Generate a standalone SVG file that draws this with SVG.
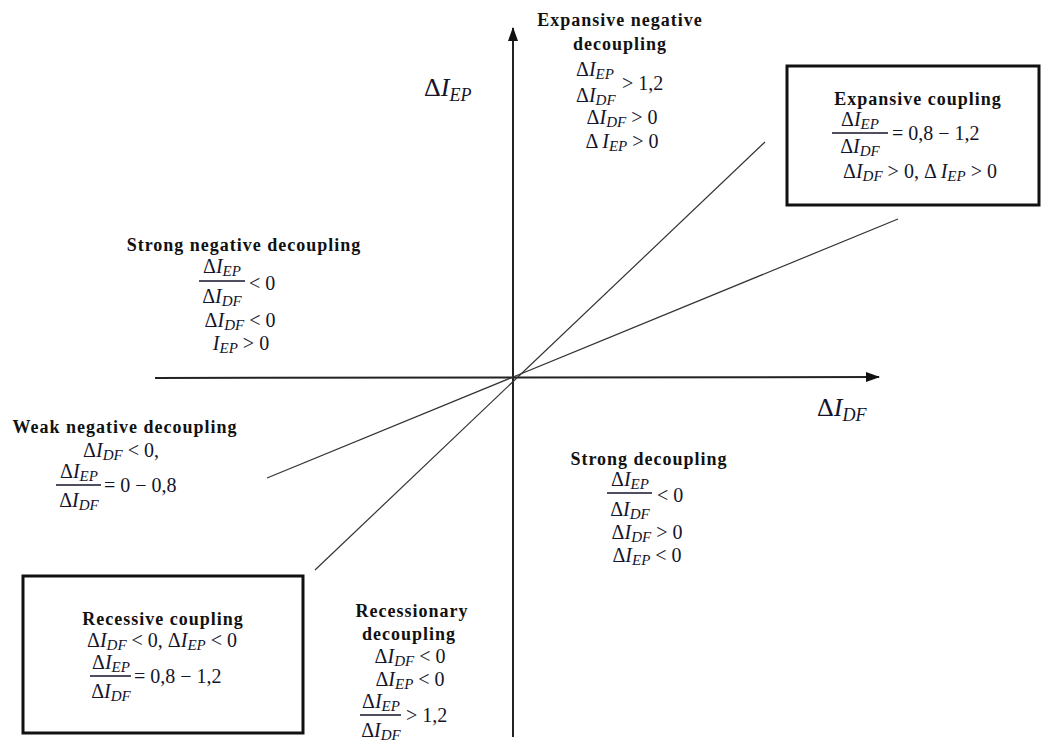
<svg xmlns="http://www.w3.org/2000/svg" width="1046" height="744" viewBox="0 0 1046 744">
<style>
.t{font-family:"Liberation Serif",serif;font-weight:bold;font-size:18px;letter-spacing:1px;fill:#111;text-anchor:middle}
.m{font-family:"Liberation Serif",serif;font-size:20px;fill:#14142a}
.c{text-anchor:middle}
.i{font-style:italic}
.s{font-size:15px;font-style:italic}
.ax{font-family:"Liberation Serif",serif;font-size:26px;fill:#14142a}
.bar{stroke:#14142a;stroke-width:1.4}
.box{fill:none;stroke:#111;stroke-width:3}
.axis{stroke:#222;stroke-width:2;fill:none}
.diag{stroke:#333;stroke-width:1.2}
</style>
<defs>
<marker id="arr" viewBox="0 0 14 10" refX="13" refY="5" markerWidth="14" markerHeight="10" markerUnits="userSpaceOnUse" orient="auto">
<path d="M0,0 L14,5 L0,10 Z" fill="#111"/>
</marker>
</defs>
<rect width="1046" height="744" fill="#fff"/>
<g id="connectors">
<line class="axis" x1="513" y1="737" x2="513" y2="28" marker-end="url(#arr)"/>
<line class="axis" x1="155" y1="378" x2="879" y2="377" marker-end="url(#arr)"/>
<line class="diag" x1="765" y1="142" x2="315" y2="570"/>
<line class="diag" x1="898" y1="219" x2="267" y2="478"/>
</g>
<g id="axis-ep">
<text class="ax" x="424" y="96">Δ<tspan class="i">I</tspan><tspan font-size="18" font-style="italic" dy="5">EP</tspan></text>
</g>
<g id="axis-df">
<text class="ax" x="817" y="416">Δ<tspan class="i">I</tspan><tspan font-size="18" font-style="italic" dy="5">DF</tspan></text>
</g>
<g id="expansive-negative-decoupling">
<text class="t" x="620" y="26">Expansive negative</text>
<text class="t" x="620" y="50">decoupling</text>
<text class="m" x="576" y="76">Δ<tspan class="i">I</tspan><tspan class="s" dy="3">EP</tspan></text>
<text class="m" x="576" y="102">Δ<tspan class="i">I</tspan><tspan class="s" dy="3">DF</tspan></text>
<text class="m" x="622" y="90">&gt; 1,2</text>
<text class="m c" x="622" y="124">Δ<tspan class="i">I</tspan><tspan class="s" dy="3">DF</tspan><tspan dy="-3"> &gt; 0</tspan></text>
<text class="m c" x="622" y="148">Δ <tspan class="i">I</tspan><tspan class="s" dy="3">EP</tspan><tspan dy="-3"> &gt; 0</tspan></text>
</g>
<g id="expansive-coupling">
<rect class="box" x="787" y="66" width="252" height="139"/>
<text class="t" x="918" y="105">Expansive coupling</text>
<text class="m c" x="860" y="126">Δ<tspan class="i">I</tspan><tspan class="s" dy="3">EP</tspan></text>
<line class="bar" x1="832" y1="133" x2="888" y2="133"/>
<text class="m c" x="860" y="153">Δ<tspan class="i">I</tspan><tspan class="s" dy="3">DF</tspan></text>
<text class="m" x="892" y="140">= 0,8 − 1,2</text>
<text class="m c" x="920" y="178">Δ<tspan class="i">I</tspan><tspan class="s" dy="3">DF</tspan><tspan dy="-3"> &gt; 0, Δ </tspan><tspan class="i">I</tspan><tspan class="s" dy="3">EP</tspan><tspan dy="-3"> &gt; 0</tspan></text>
</g>
<g id="strong-negative-decoupling">
<text class="t" x="244" y="251">Strong negative decoupling</text>
<text class="m c" x="222" y="273">Δ<tspan class="i">I</tspan><tspan class="s" dy="3">EP</tspan></text>
<line class="bar" x1="199" y1="281" x2="245" y2="281"/>
<text class="m c" x="222" y="303">Δ<tspan class="i">I</tspan><tspan class="s" dy="3">DF</tspan></text>
<text class="m" x="249" y="290">&lt; 0</text>
<text class="m c" x="240" y="327">Δ<tspan class="i">I</tspan><tspan class="s" dy="3">DF</tspan><tspan dy="-3"> &lt; 0</tspan></text>
<text class="m c" x="241" y="350"><tspan class="i">I</tspan><tspan class="s" dy="3">EP</tspan><tspan dy="-3"> &gt; 0</tspan></text>
</g>
<g id="weak-negative-decoupling">
<text class="t" x="125" y="433">Weak negative decoupling</text>
<text class="m c" x="121" y="457">Δ<tspan class="i">I</tspan><tspan class="s" dy="3">DF</tspan><tspan dy="-3"> &lt; 0,</tspan></text>
<text class="m c" x="79" y="478">Δ<tspan class="i">I</tspan><tspan class="s" dy="3">EP</tspan></text>
<line class="bar" x1="56" y1="485" x2="101" y2="485"/>
<text class="m c" x="79" y="507">Δ<tspan class="i">I</tspan><tspan class="s" dy="3">DF</tspan></text>
<text class="m" x="104" y="492">= 0 − 0,8</text>
</g>
<g id="strong-decoupling">
<text class="t" x="649" y="465">Strong decoupling</text>
<text class="m c" x="630" y="486">Δ<tspan class="i">I</tspan><tspan class="s" dy="3">EP</tspan></text>
<line class="bar" x1="607" y1="493" x2="652" y2="493"/>
<text class="m c" x="630" y="516">Δ<tspan class="i">I</tspan><tspan class="s" dy="3">DF</tspan></text>
<text class="m" x="657" y="502">&lt; 0</text>
<text class="m c" x="647" y="539">Δ<tspan class="i">I</tspan><tspan class="s" dy="3">DF</tspan><tspan dy="-3"> &gt; 0</tspan></text>
<text class="m c" x="647" y="562">Δ<tspan class="i">I</tspan><tspan class="s" dy="3">EP</tspan><tspan dy="-3"> &lt; 0</tspan></text>
</g>
<g id="recessive-coupling">
<rect class="box" x="23" y="576" width="280" height="157"/>
<text class="t" x="163" y="625">Recessive coupling</text>
<text class="m c" x="162" y="647">Δ<tspan class="i">I</tspan><tspan class="s" dy="3">DF</tspan><tspan dy="-3"> &lt; 0, Δ</tspan><tspan class="i">I</tspan><tspan class="s" dy="3">EP</tspan><tspan dy="-3"> &lt; 0</tspan></text>
<text class="m c" x="111" y="669">Δ<tspan class="i">I</tspan><tspan class="s" dy="3">EP</tspan></text>
<line class="bar" x1="90" y1="676" x2="131" y2="676"/>
<text class="m c" x="111" y="698">Δ<tspan class="i">I</tspan><tspan class="s" dy="3">DF</tspan></text>
<text class="m" x="134" y="683">= 0,8 − 1,2</text>
</g>
<g id="recessionary-decoupling">
<text class="t" x="412" y="617">Recessionary</text>
<text class="t" x="409" y="640">decoupling</text>
<text class="m c" x="410" y="663">Δ<tspan class="i">I</tspan><tspan class="s" dy="3">DF</tspan><tspan dy="-3"> &lt; 0</tspan></text>
<text class="m c" x="410" y="686">Δ<tspan class="i">I</tspan><tspan class="s" dy="3">EP</tspan><tspan dy="-3"> &lt; 0</tspan></text>
<text class="m c" x="381" y="708">Δ<tspan class="i">I</tspan><tspan class="s" dy="3">EP</tspan></text>
<line class="bar" x1="360" y1="715" x2="401" y2="715"/>
<text class="m c" x="381" y="737">Δ<tspan class="i">I</tspan><tspan class="s" dy="3">DF</tspan></text>
<text class="m" x="406" y="722">&gt; 1,2</text>
</g>
</svg>
